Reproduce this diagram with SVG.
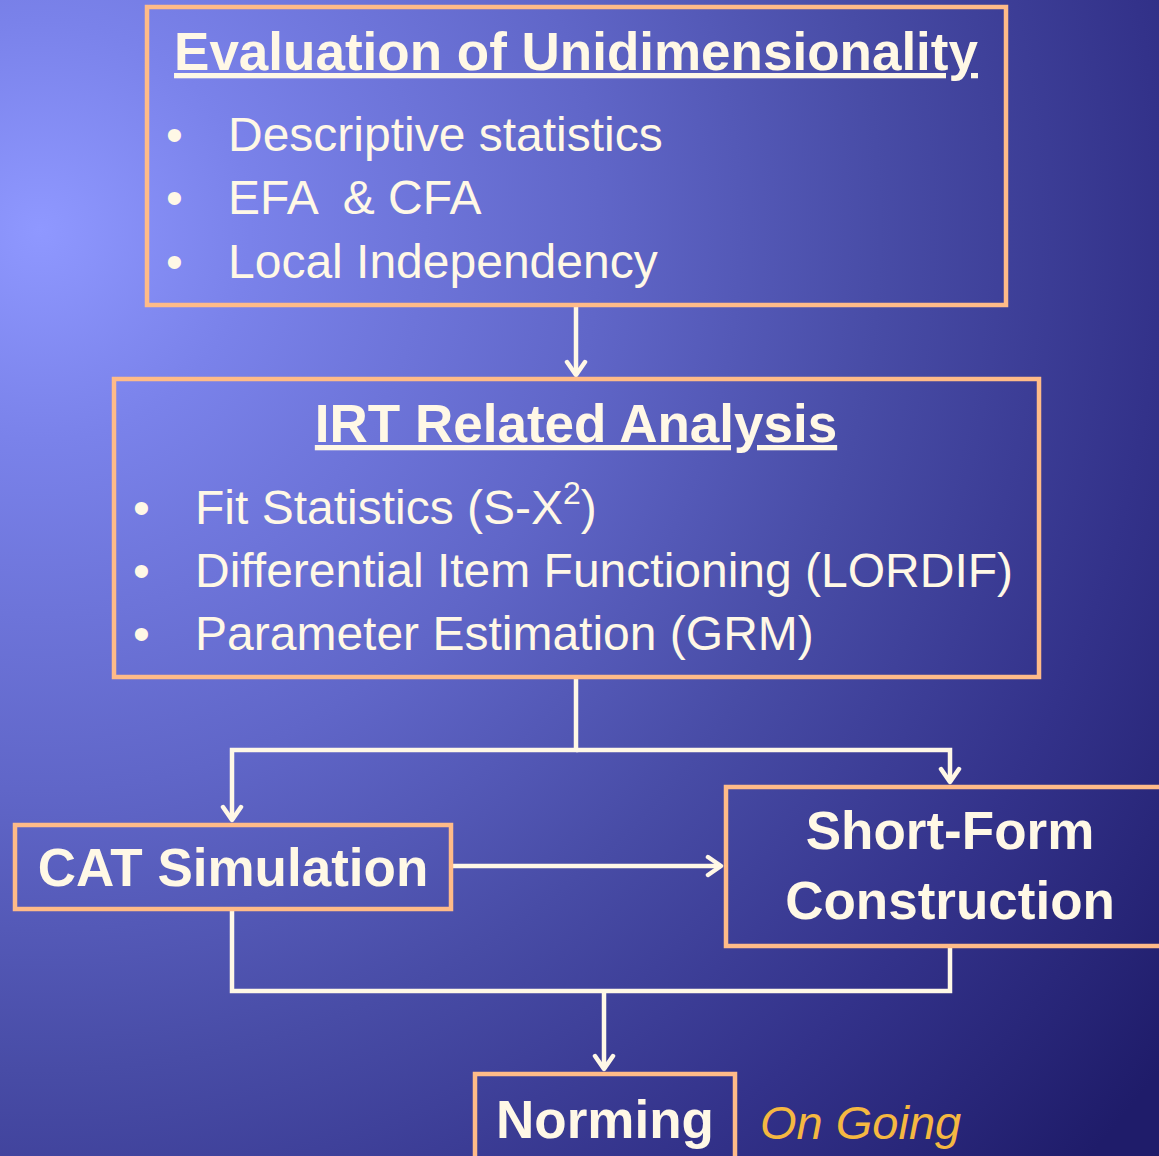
<svg xmlns="http://www.w3.org/2000/svg" width="1159" height="1156" viewBox="0 0 1159 1156">
<defs>
<radialGradient id="bg" gradientUnits="userSpaceOnUse" cx="40" cy="230" r="1400">
<stop offset="0" stop-color="#8f98ff"/>
<stop offset="0.15" stop-color="#7a82ea"/>
<stop offset="0.4" stop-color="#6066c8"/>
<stop offset="0.6" stop-color="#484ca6"/>
<stop offset="0.8" stop-color="#33328a"/>
<stop offset="1" stop-color="#1f1c6a"/>
</radialGradient>
<marker id="arr" viewBox="0 0 24 24" refX="20" refY="12" markerWidth="24" markerHeight="24" markerUnits="userSpaceOnUse" orient="auto">
<path d="M7,3 L20,12 L7,21" fill="none" stroke="#fff8e6" stroke-width="4.5" stroke-linecap="round" stroke-linejoin="round"/>
</marker>
<style>
.box{fill:none;stroke:#ffbb88;stroke-width:4.5}
.t{fill:#fff8e6;font-family:"Liberation Sans",Arial,sans-serif}
.h{font-weight:bold;font-size:53px}
.b{font-size:48px}
.c{fill:none;stroke:#fff8e6;stroke-width:4.5;stroke-linejoin:miter}
</style>
</defs>
<rect width="1159" height="1156" fill="url(#bg)"/>
<g id="connectors">
<path class="c" d="M576,307 V375" marker-end="url(#arr)"/>
<path class="c" d="M576,679 V750 H232 V820" marker-end="url(#arr)"/>
<path class="c" d="M576,750 H950 V782" marker-end="url(#arr)"/>
<path class="c" d="M453,866 H721" marker-end="url(#arr)"/>
<path class="c" d="M232,911 V991 H950 V948"/>
<path class="c" d="M604,991 V1069" marker-end="url(#arr)"/>
</g>
<g id="unidim">
<rect class="box" x="147" y="7" width="859" height="298"/>
<text class="t h" x="576" y="70" text-anchor="middle" text-decoration="underline">Evaluation of Unidimensionality</text>
<text class="t b" x="166" y="151">•</text><text class="t b" x="228" y="151">Descriptive statistics</text>
<text class="t b" x="166" y="214">•</text><text class="t b" x="228" y="214" xml:space="preserve">EFA  &amp; CFA</text>
<text class="t b" x="166" y="278">•</text><text class="t b" x="228" y="278">Local Independency</text>
</g>
<g id="irt">
<rect class="box" x="114" y="379" width="925" height="298"/>
<text class="t h" x="576" y="442" text-anchor="middle" text-decoration="underline">IRT Related Analysis</text>
<text class="t b" x="133" y="524">•</text><text class="t b" x="195" y="524">Fit Statistics (S-X<tspan font-size="32" dy="-20">2</tspan><tspan dy="20">)</tspan></text>
<text class="t b" x="133" y="587">•</text><text class="t b" x="195" y="587">Differential Item Functioning (LORDIF)</text>
<text class="t b" x="133" y="650">•</text><text class="t b" x="195" y="650">Parameter Estimation (GRM)</text>
</g>
<g id="cat">
<rect class="box" x="15" y="825" width="436" height="84"/>
<text class="t h" x="233" y="886" text-anchor="middle" font-size="51">CAT Simulation</text>
</g>
<g id="shortform">
<rect class="box" x="726" y="787" width="440" height="159"/>
<text class="t h" x="950" y="849" text-anchor="middle">Short-Form</text>
<text class="t h" x="950" y="919" text-anchor="middle">Construction</text>
</g>
<g id="norming">
<rect class="box" x="475" y="1074" width="260" height="90"/>
<text class="t h" x="605" y="1138" text-anchor="middle">Norming</text>
</g>
<text x="760" y="1139" font-family="'Liberation Sans',Arial,sans-serif" font-style="italic" font-size="47" fill="#f5b841">On Going</text>
</svg>
